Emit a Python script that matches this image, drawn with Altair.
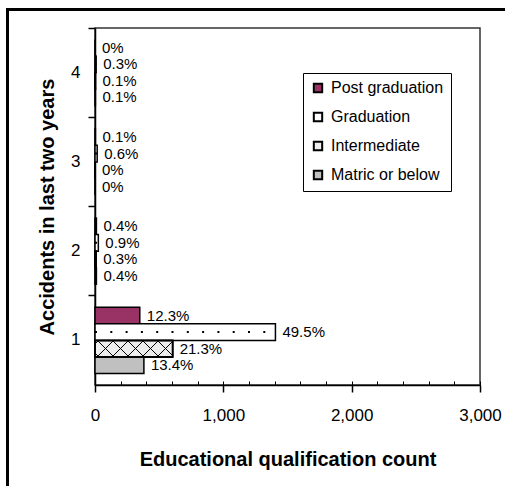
import altair as alt
import pandas as pd

# ---- data ----
accidents = ["1", "2", "3", "4"]
education = ["Post graduation", "Graduation", "Intermediate", "Matric or below"]

post_grad = [349, 11, 3, 0]
graduation = [1406, 26, 17, 9]
intermediate = [605, 9, 0, 3]
matric = [381, 11, 0, 3]

post_grad_pct = ["12.3%", "0.4%", "0.1%", "0%"]
graduation_pct = ["49.5%", "0.9%", "0.6%", "0.3%"]
intermediate_pct = ["21.3%", "0.3%", "0%", "0.1%"]
matric_pct = ["13.4%", "0.4%", "0%", "0.1%"]

x_ticks = [0, 1000, 2000, 3000]
colors = ["#993366", "#ffffff", "#eeeeee", "#c0c0c0"]

series = [post_grad, graduation, intermediate, matric]
pcts = [post_grad_pct, graduation_pct, intermediate_pct, matric_pct]
rows = []
for ed, vals, pc in zip(education, series, pcts):
    for acc, v, p in zip(accidents, vals, pc):
        rows.append({"accidents": acc, "education": ed, "count": v, "pct": p})
df = pd.DataFrame(rows)

FONT = "Liberation Sans"


def hatch(x1, y1, x2, y2, period=0.154, width=0.0145, phase=0.03):
    clear = "rgba(0,0,0,0)"
    stops = [{"offset": 0, "color": clear}]
    t = phase
    while t + width < 1:
        a, b = round(t, 4), round(t + width, 4)
        stops += [
            {"offset": a, "color": clear},
            {"offset": a, "color": "#000000"},
            {"offset": b, "color": "#000000"},
            {"offset": b, "color": clear},
        ]
        t += period
    stops.append({"offset": 1, "color": clear})
    return {"gradient": "linear", "x1": x1, "y1": y1, "x2": x2, "y2": y2, "stops": stops}


x_scale = alt.Scale(domain=[0, 3000], nice=False, zero=True)
y_sort = ["4", "3", "2", "1"]
y_scale = alt.Scale(paddingInner=0, paddingOuter=0)
yoff = alt.YOffset(
    "education:N",
    sort=education,
    scale=alt.Scale(domain=education, paddingInner=0, paddingOuter=0.7),
)

x_axis_main = alt.Axis(
    values=x_ticks, tickSize=7, tickWidth=1.5, tickColor="black",
    domainColor="black", domainWidth=1.5, labelFontSize=17, labelPadding=15,
    labelColor="black", labelFlush=False, grid=False,
    title="Educational qualification count", titleFontSize=20,
    titleFontWeight="bold", titleColor="black", titlePadding=26, orient="bottom",
)
x_axis_minor = alt.Axis(
    orient="bottom", values=list(range(0, 3001, 200)), tickSize=4, offset=-4,
    tickWidth=1, tickColor="black", domain=False, labels=False, title=None, grid=False,
)
y_axis_main = alt.Axis(
    orient="left", ticks=False, tickSize=0, labelFontSize=17, labelPadding=15,
    labelAngle=0, labelColor="black", domainColor="black", domainWidth=1.5,
    title="Accidents in last two years", titleFontSize=20, titleFontWeight="bold",
    titleColor="black", titlePadding=13, grid=False,
)
y_axis_ticks = alt.Axis(
    orient="left", bandPosition=0, tickSize=7, tickWidth=1.5, tickColor="black",
    domain=False, labels=False, title=None, grid=False,
)

base = alt.Chart(df)

bars = base.mark_bar(stroke="black", strokeWidth=1.5).encode(
    x=alt.X("count:Q", scale=x_scale, axis=x_axis_main),
    y=alt.Y("accidents:N", sort=y_sort, scale=y_scale, axis=y_axis_main),
    yOffset=yoff,
    color=alt.Color(
        "education:N",
        scale=alt.Scale(domain=education, range=colors),
        legend=alt.Legend(
            title=None, orient="none", legendX=208, legendY=45, padding=7,
            strokeColor="black", fillColor="white", symbolType="square",
            symbolSize=70, symbolStrokeWidth=2, symbolStrokeColor="black",
            labelFontSize=16, labelColor="black", rowPadding=11, labelOffset=5,
            symbolOpacity=1,
        ),
    ),
)

r = 0.2129
hatch1 = base.transform_filter(alt.datum.education == "Intermediate").mark_bar(
    fill=hatch(0, 0, 1.2, 1.2 * r), stroke="black", strokeWidth=1.5
).encode(
    x=alt.X("count:Q", scale=x_scale, axis=None),
    y=alt.Y("accidents:N", sort=y_sort, scale=y_scale, axis=None),
    yOffset=yoff,
)
hatch2 = base.transform_filter(alt.datum.education == "Intermediate").mark_bar(
    fill=hatch(0, 1, 1.2, 1 - 1.2 * r), stroke="black", strokeWidth=1.5
).encode(
    x=alt.X("count:Q", scale=x_scale, axis=None),
    y=alt.Y("accidents:N", sort=y_sort, scale=y_scale, axis=None),
    yOffset=yoff,
)

dots = base.transform_filter(alt.datum.education == "Graduation").transform_calculate(
    zero="0"
).mark_rule(strokeDash=[2, 13.3], strokeWidth=2, color="black", strokeCap="butt").encode(
    x=alt.X("zero:Q", scale=x_scale, axis=None),
    x2="count:Q",
    y=alt.Y("accidents:N", sort=y_sort, scale=y_scale, axis=None),
    yOffset=yoff,
)

labels = base.mark_text(
    align="left", baseline="middle", dx=7, fontSize=15, color="black"
).encode(
    x=alt.X("count:Q", scale=x_scale, axis=x_axis_minor),
    y=alt.Y("accidents:N", sort=y_sort, scale=y_scale, axis=y_axis_ticks),
    yOffset=yoff,
    text="pct:N",
)

frame = alt.Chart(alt.Data(values=[{"a": 1}])).mark_rect(
    fillOpacity=0, stroke="black", strokeWidth=3
).encode(
    x=alt.value(-87.5), x2=alt.value(440), y=alt.value(-18.5), y2=alt.value(490)
)

chart = (
    alt.layer(frame, bars, hatch1, hatch2, dots, labels)
    .resolve_axis(x="independent", y="independent")
    .properties(
        width=385, height=357,
        autosize=alt.AutoSizeParams(type="none"),
        padding={"left": 95, "top": 28, "right": 25, "bottom": 101},
        background="white",
    )
    .configure(font=FONT)
    .configure_view(stroke="#333333", strokeWidth=1.5)
)

chart.save("out.html", embed_options={"renderer": "svg", "actions": False})
